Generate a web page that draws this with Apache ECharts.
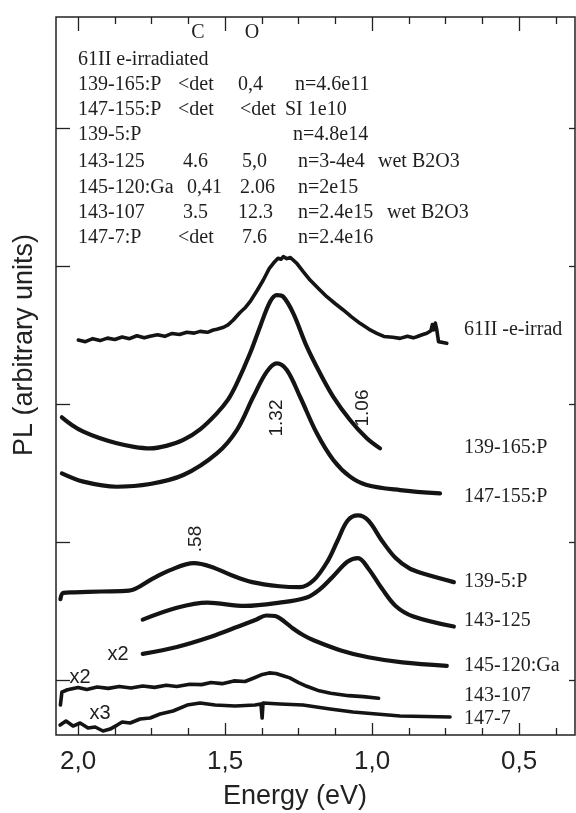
<!DOCTYPE html>
<html>
<head>
<meta charset="utf-8">
<script src="https://cdn.jsdelivr.net/npm/echarts@6/dist/echarts.min.js"></script>
<style>
  html, body { margin: 0; padding: 0; background: #fff; }
  #chart { width: 576px; height: 813px; }
</style>
</head>
<body>
<div id="chart"></div>
<script>
// energy (eV), PL intensity (arbitrary units, offset traces)
var curve61 = [[1.999,2.862],[1.975,2.850],[1.950,2.872],[1.925,2.858],[1.900,2.876],[1.875,2.866],[1.850,2.884],[1.825,2.872],[1.800,2.893],[1.775,2.878],[1.755,2.890],[1.730,2.900],[1.705,2.889],[1.680,2.910],[1.655,2.902],[1.630,2.918],[1.605,2.912],[1.585,2.925],[1.560,2.918],[1.540,2.935],[1.528,2.940],[1.505,2.955],[1.490,2.972],[1.472,3.007],[1.450,3.060],[1.430,3.100],[1.415,3.140],[1.390,3.225],[1.370,3.297],[1.350,3.380],[1.336,3.418],[1.320,3.455],[1.310,3.448],[1.302,3.466],[1.290,3.452],[1.278,3.460],[1.256,3.418],[1.235,3.360],[1.211,3.297],[1.180,3.230],[1.154,3.176],[1.125,3.125],[1.098,3.080],[1.070,3.030],[1.041,2.983],[1.010,2.940],[0.984,2.911],[0.960,2.888],[0.930,2.882],[0.905,2.874],[0.880,2.890],[0.860,2.878],[0.848,2.886],[0.830,2.900],[0.814,2.911],[0.800,2.930],[0.795,2.975],[0.791,2.935],[0.785,2.985],[0.780,2.935],[0.774,2.850],[0.760,2.845],[0.746,2.838]];
var curve139_165 = [[2.055,2.302],[2.020,2.245],[1.982,2.198],[1.925,2.150],[1.868,2.114],[1.810,2.088],[1.755,2.077],[1.700,2.095],[1.642,2.138],[1.585,2.215],[1.528,2.331],[1.490,2.430],[1.460,2.548],[1.415,2.766],[1.381,2.959],[1.347,3.140],[1.324,3.188],[1.302,3.176],[1.268,3.056],[1.222,2.814],[1.177,2.621],[1.132,2.451],[1.075,2.283],[1.018,2.150],[0.973,2.077]];
var curve147_155 = [[2.055,1.896],[1.982,1.836],[1.868,1.799],[1.755,1.819],[1.642,1.884],[1.528,2.041],[1.460,2.210],[1.404,2.451],[1.358,2.633],[1.324,2.693],[1.290,2.645],[1.245,2.451],[1.188,2.186],[1.132,1.993],[1.075,1.872],[1.018,1.812],[0.905,1.775],[0.769,1.751]];
var curve139_5 = [[2.060,0.985],[2.050,1.030],[2.013,1.034],[1.920,1.040],[1.827,1.046],[1.746,1.133],[1.687,1.195],[1.606,1.245],[1.548,1.220],[1.478,1.158],[1.408,1.108],[1.315,1.078],[1.246,1.071],[1.199,1.121],[1.152,1.257],[1.118,1.406],[1.083,1.554],[1.048,1.591],[1.013,1.554],[0.966,1.406],[0.920,1.282],[0.873,1.207],[0.827,1.170],[0.722,1.108]];
var curve143_125 = [[1.780,0.836],[1.664,0.922],[1.560,0.959],[1.432,0.935],[1.315,0.959],[1.222,0.997],[1.176,1.059],[1.129,1.158],[1.083,1.257],[1.048,1.282],[1.013,1.207],[0.966,1.059],[0.920,0.935],[0.862,0.861],[0.722,0.786]];
var curve145_120 = [[1.780,0.588],[1.664,0.638],[1.548,0.712],[1.455,0.786],[1.395,0.835],[1.360,0.866],[1.330,0.862],[1.300,0.825],[1.269,0.772],[1.235,0.725],[1.199,0.687],[1.106,0.613],[1.013,0.563],[0.897,0.526],[0.746,0.501]];
var curve143_107 = [[2.060,0.217],[2.055,0.310],[2.036,0.328],[2.000,0.345],[1.970,0.330],[1.935,0.348],[1.897,0.338],[1.860,0.352],[1.820,0.340],[1.780,0.355],[1.740,0.345],[1.700,0.360],[1.664,0.352],[1.620,0.368],[1.580,0.365],[1.548,0.380],[1.510,0.372],[1.470,0.392],[1.432,0.388],[1.400,0.415],[1.373,0.439],[1.350,0.450],[1.327,0.446],[1.300,0.428],[1.280,0.414],[1.250,0.380],[1.222,0.353],[1.180,0.320],[1.141,0.303],[1.080,0.285],[1.030,0.278],[0.978,0.266]];
var curve147_7 = [[2.061,0.072],[2.041,0.101],[2.017,0.065],[1.993,0.087],[1.966,0.051],[1.942,0.058],[1.915,0.029],[1.891,0.043],[1.867,0.072],[1.850,0.094],[1.823,0.087],[1.789,0.116],[1.755,0.123],[1.721,0.152],[1.677,0.174],[1.629,0.217],[1.585,0.232],[1.534,0.217],[1.466,0.210],[1.398,0.217],[1.378,0.225],[1.374,0.123],[1.371,0.232],[1.313,0.225],[1.235,0.217],[1.143,0.188],[1.065,0.167],[0.905,0.138],[0.735,0.130]];

var curveNames = ['61II -e-irrad', '139-165:P', '147-155:P', '139-5:P', '143-125', '145-120:Ga', '143-107', '147-7'];
var curves = [curve61, curve139_165, curve147_155, curve139_5, curve143_125, curve145_120, curve143_107, curve147_7];

// header table
var sampleNames = ['61II e-irradiated', '139-165:P', '147-155:P', '139-5:P', '143-125', '145-120:Ga', '143-107', '147-7:P'];
var carbon = ['', '<det', '<det', '', '4.6', '0,41', '3.5', '<det'];
var oxygen = ['', '0,4', '<det', '', '5,0', '2.06', '12.3', '7.6'];
var notes = ['', 'n=4.6e11', 'SI 1e10', 'n=4.8e14', 'n=3-4e4', 'n=2e15', 'n=2.4e15', 'n=2.4e16'];
var extra = ['', '', '', '', 'wet B2O3', '', 'wet B2O3', ''];

// axis ticks
var majorE = [0.5, 1.0, 1.5, 2.0];
var minorE = [0.375, 0.625, 0.75, 0.875, 1.125, 1.25, 1.375, 1.625, 1.75, 1.875];
var yTicks = [0.4, 1.4, 2.4, 3.4, 4.4];

var serif = 'Liberation Serif';
var sans = 'Liberation Sans';
var ink = '#141414';

// layout of the text block (pixels)
var rowY = [60, 85, 110, 135, 162, 188, 213, 238];
var cX = [0, 178, 178, 0, 183, 187, 183, 178];
var oX = [0, 238, 240, 0, 242, 240, 238, 242];
var nX = [0, 295, 285, 293, 298, 298, 298, 298];
var wX = [0, 0, 0, 0, 378, 0, 387, 0];
var labelY = [330, 448, 497, 582, 621, 666, 696, 719];

function txt(s, x, y, size, font, extraStyle) {
  var st = { text: s, x: x, y: y, fill: '#1e1e1e', fontSize: size, fontFamily: font, verticalAlign: 'middle' };
  for (var k in extraStyle) st[k] = extraStyle[k];
  return { type: 'text', style: st, z: 10 };
}

var graphics = [];
graphics.push(txt('C', 198, 33, 20, serif, { align: 'center' }));
graphics.push(txt('O', 252, 33, 20, serif, { align: 'center' }));
sampleNames.forEach(function (n, i) {
  graphics.push(txt(n, 78, rowY[i], 20, serif));
  if (carbon[i]) graphics.push(txt(carbon[i], cX[i], rowY[i], 20, serif));
  if (oxygen[i]) graphics.push(txt(oxygen[i], oX[i], rowY[i], 20, serif));
  if (notes[i]) graphics.push(txt(notes[i], nX[i], rowY[i], 20, serif));
  if (extra[i]) graphics.push(txt(extra[i], wX[i], rowY[i], 20, serif));
});
curveNames.forEach(function (n, i) {
  graphics.push(txt(n, 464, labelY[i], 20, serif));
});
// peak annotations
[['1.32', 277, 418], ['1.06', 363, 408], ['.58', 196, 539]].forEach(function (a) {
  var g = txt(a[0], 0, 0, 19, sans, { align: 'center' });
  g.x = a[1]; g.y = a[2]; g.rotation = Math.PI / 2;
  graphics.push(g);
});
graphics.push(txt('x2', 118, 654, 20, sans, { align: 'center' }));
graphics.push(txt('x2', 80, 677, 20, sans, { align: 'center' }));
graphics.push(txt('x3', 100, 713, 20, sans, { align: 'center' }));
// axis titles
var yTitle = txt('PL (arbitrary units)', 0, 0, 27, sans, { align: 'center', fill: '#222' });
yTitle.x = 25; yTitle.y = 345; yTitle.rotation = Math.PI / 2;
graphics.push(yTitle);
graphics.push(txt('Energy (eV)', 295, 797, 27, sans, { align: 'center', fill: '#222' }));

function xAx(pos, vals, len, labels) {
  return {
    type: 'value', min: 0.31, max: 2.075, inverse: true, position: pos,
    axisLine: { show: false }, splitLine: { show: false },
    axisTick: { inside: true, length: len, customValues: vals, lineStyle: { color: '#222', width: 1.3 } },
    axisLabel: labels ? {
      customValues: majorE, fontSize: 26, color: '#222', fontFamily: sans, margin: 14,
      formatter: function (v) { return v.toFixed(1).replace('.', ','); }
    } : { show: false }
  };
}
function yAx(pos, len) {
  return {
    type: 'value', min: 0, max: 5.203, position: pos,
    axisLine: { show: false }, splitLine: { show: false },
    axisTick: { inside: true, length: len, customValues: yTicks, lineStyle: { color: '#222', width: 1.3 } },
    axisLabel: { show: false }
  };
}

var series = curves.map(function (c, i) {
  var noisy = (i === 0 || i === 6 || i === 7);
  return {
    name: curveNames[i], type: 'line', data: c, showSymbol: false,
    smooth: noisy ? false : 0.35,
    lineStyle: { color: ink, width: noisy ? 3.6 : 4.2, join: 'round', cap: 'round' },
    xAxisIndex: 0, yAxisIndex: 0
  };
});

var option = {
  backgroundColor: '#fff',
  animation: false,
  grid: { left: 56, right: 1, top: 17, bottom: 78, show: true, borderColor: '#222', borderWidth: 1.5, backgroundColor: 'transparent' },
  xAxis: [xAx('bottom', majorE, 12, true), xAx('bottom', minorE, 7, false), xAx('top', majorE, 14, false), xAx('top', minorE, 7, false)],
  yAxis: [yAx('left', 14), yAx('right', 6)],
  series: series,
  graphic: graphics
};

var myChart = echarts.init(document.getElementById('chart'));
myChart.setOption(option);
</script>
</body>
</html>
